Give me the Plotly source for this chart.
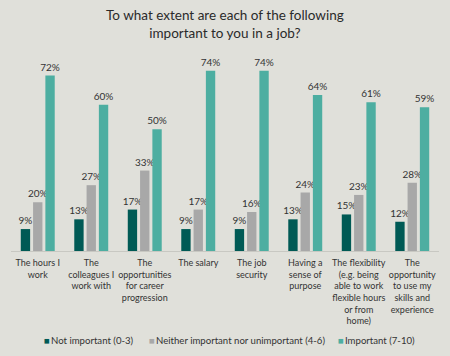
import plotly.graph_objects as go

categories = [
    "The hours I<br>work",
    "The<br>colleagues I<br>work with",
    "The<br>opportunities<br>for career<br>progression",
    "The salary",
    "The job<br>security",
    "Having a<br>sense of<br>purpose",
    "The flexibility<br>(e.g. being<br>able to work<br>flexible hours<br>or from<br>home)",
    "The<br>opportunity<br>to use my<br>skills and<br>experience",
]
not_important = [9, 13, 17, 9, 9, 13, 15, 12]
neither = [20, 27, 33, 17, 16, 24, 23, 28]
important = [72, 60, 50, 74, 74, 64, 61, 59]

series_names = [
    "Not important (0-3)",
    "Neither important nor unimportant (4-6)",
    "Important (7-10)",
]
colors = ["#005a55", "#a8a8a8", "#4daea1"]
title_text = "To what extent are each of the following<br>important to you in a job?"

FONT = "Lato"
W, H = 450, 356
ML, MR, MT, MB = 11, 11, 56, 105
PW, PH = W - ML - MR, H - MT - MB


def px_x(px):
    return (px - ML) / PW


def px_y(py):
    return (H - MB - py) / PH


fig = go.Figure()
for name, vals, col in zip(series_names, [not_important, neither, important], colors):
    fig.add_trace(go.Bar(
        x=categories, y=vals, name=name, marker_color=col,
        marker_line_width=0,
        text=[f"{v}%" for v in vals], textposition="outside",
        textangle=0, constraintext="none",
        textfont=dict(size=10, color="#333333", family=FONT),
        cliponaxis=False, showlegend=False, hoverinfo="skip",
    ))

annotations = [dict(
    text=title_text, xref="paper", yref="paper",
    x=0.5, xanchor="center", y=px_y(5), yanchor="top",
    showarrow=False, font=dict(size=13.5, color="#2a2a2a", family=FONT),
)]
legend_x = [42, 147, 336]
for name, col, lx in zip(series_names, colors, legend_x):
    annotations.append(dict(
        text=f"<span style='color:{col}'>■</span>&#8201;{name}",
        xref="paper", yref="paper", x=px_x(lx), xanchor="left",
        y=px_y(340), yanchor="middle", showarrow=False,
        font=dict(size=9.6, color="#333333", family=FONT),
    ))

fig.update_layout(
    width=W, height=H,
    paper_bgcolor="#e0e0da", plot_bgcolor="#e0e0da",
    margin=dict(l=ML, r=MR, t=MT, b=MB, autoexpand=False),
    barmode="group", bargap=0.31, bargroupgap=0.24,
    font=dict(family=FONT, size=10, color="#333333"),
    showlegend=False,
    annotations=annotations,
    xaxis=dict(
        showline=True, linecolor="#c8c8c2", linewidth=1, ticks="",
        tickfont=dict(size=9, color="#333333", family=FONT), tickangle=0,
        automargin=False, ticklabelstandoff=3,
    ),
    yaxis=dict(range=[0, 80], visible=False, showgrid=False),
)

fig.write_html(
    "out.html",
    config={"displayModeBar": False, "staticPlot": True},
    post_script="document.body.style.margin='0';document.body.style.overflow='hidden';window.scrollTo(0,0);",
)
